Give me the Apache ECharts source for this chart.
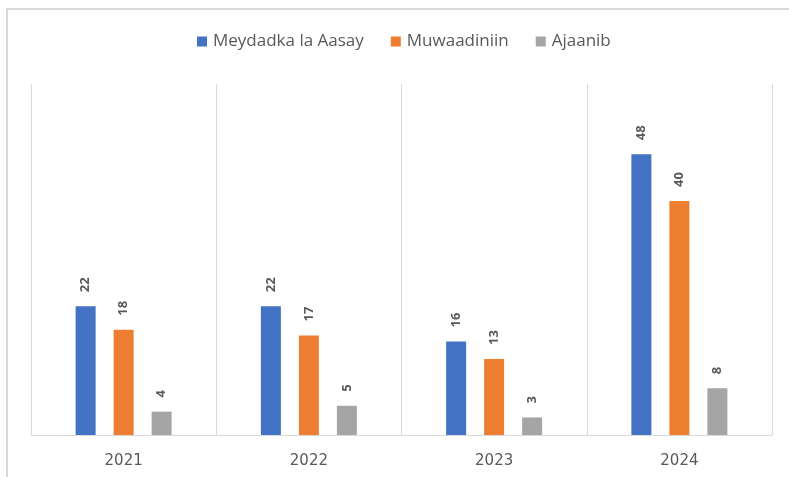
<!DOCTYPE html>
<html><head><meta charset="utf-8">
<script src="https://cdn.jsdelivr.net/npm/echarts@6/dist/echarts.min.js"></script>
<style>html,body{margin:0;padding:0;background:#fff}#c{width:789px;height:477px}</style>
</head><body><div id="c"></div>
<script>
const categories = ['2021', '2022', '2023', '2024'];
const seriesNames = ['Meydadka la Aasay', 'Muwaadiniin', 'Ajaanib'];
const meydadka = [22, 22, 16, 48];
const muwaadiniin = [18, 17, 13, 40];
const ajaanib = [4, 5, 3, 8];
const colors = ['#4472C4', '#ED7D31', '#A5A5A5'];

const chart = echarts.init(document.getElementById('c'));
const labelCfg = {
  show: true, position: 'top', rotate: 90, align: 'left', verticalAlign: 'middle',
  distance: 14, color: '#595959', fontWeight: 'bold', fontSize: 13, fontFamily: 'Open Sans'
};
function mk(name, data, color) {
  return { name, type: 'bar', data, barWidth: 20, barGap: '90%',
    itemStyle: { color }, label: labelCfg };
}
chart.setOption({
  animation: false,
  color: colors,
  graphic: [{ type: 'rect', shape: { x: 7, y: 9, width: 800, height: 500 },
    style: { fill: 'none', stroke: '#d9d9d9', lineWidth: 2 }, silent: true }],
  legend: {
    top: 28, left: 192, itemWidth: 10, itemHeight: 10, itemGap: 27, icon: 'rect',
    textStyle: { color: '#595959', fontSize: 17, fontFamily: 'Open Sans', padding: [0, 0, 0, 1] },
    data: seriesNames
  },
  grid: { left: 31, right: 17, top: 84, bottom: 42, containLabel: false },
  xAxis: {
    type: 'category', data: categories, boundaryGap: true,
    axisLine: { show: true, lineStyle: { color: '#d9d9d9', width: 1 } },
    axisTick: { show: false },
    splitLine: { show: true, lineStyle: { color: '#d9d9d9', width: 1 } },
    axisLabel: { color: '#595959', fontSize: 15, fontFamily: 'DejaVu Sans', margin: 19 }
  },
  yAxis: { type: 'value', min: 0, max: 60, show: false, splitLine: { show: false } },
  series: [mk(seriesNames[0], meydadka, colors[0]), mk(seriesNames[1], muwaadiniin, colors[1]), mk(seriesNames[2], ajaanib, colors[2])]
});
</script></body></html>
